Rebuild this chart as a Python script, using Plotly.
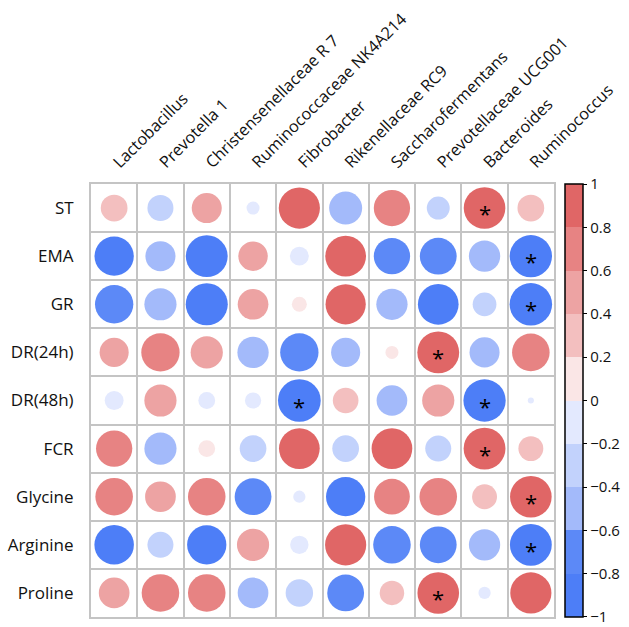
import numpy as np
import plotly.graph_objects as go

# ---------------- data ----------------
genera = ["Lactobacillus", "Prevotella 1", "Christensenellaceae R 7",
          "Ruminococcaceae NK4A214", "Fibrobacter", "Rikenellaceae RC9",
          "Saccharofermentans", "Prevotellaceae UCG001", "Bacteroides",
          "Ruminococcus"]
traits = ["ST", "EMA", "GR", "DR(24h)", "DR(48h)", "FCR",
          "Glycine", "Arginine", "Proline"]

r_ST       = [0.38, -0.36, 0.48, -0.09, 0.90, -0.58, 0.70, -0.28, 0.92, 0.38]
r_EMA      = [-0.82, -0.48, -0.93, 0.46, -0.19, 0.88, -0.70, -0.72, -0.52, -0.95]
r_GR       = [-0.78, -0.55, -0.94, 0.50, 0.12, 0.86, -0.52, -0.88, -0.30, -0.96]
r_DR24     = [0.45, 0.78, 0.55, -0.52, -0.78, -0.45, 0.09, 0.93, -0.48, 0.75]
r_DR48     = [-0.19, 0.55, -0.15, -0.14, -0.97, 0.35, -0.50, 0.55, -0.95, -0.02]
r_FCR      = [0.70, -0.55, 0.15, -0.38, 0.88, -0.38, 0.88, -0.36, 0.93, 0.33]
r_Glycine  = [0.75, 0.50, 0.75, -0.72, -0.08, -0.82, 0.68, 0.75, 0.33, 0.92]
r_Arginine = [-0.83, -0.36, -0.82, 0.55, -0.18, 0.90, -0.75, -0.72, -0.52, -0.93]
r_Proline  = [0.50, 0.75, 0.75, -0.50, -0.40, -0.72, 0.32, 0.92, -0.08, 0.90]

significant = [("ST", "Bacteroides"), ("EMA", "Ruminococcus"),
               ("GR", "Ruminococcus"), ("DR(24h)", "Prevotellaceae UCG001"),
               ("DR(48h)", "Fibrobacter"), ("DR(48h)", "Bacteroides"),
               ("FCR", "Bacteroides"), ("Glycine", "Ruminococcus"),
               ("Arginine", "Ruminococcus"), ("Proline", "Prevotellaceae UCG001")]

cbar_ticks = [1, 0.8, 0.6, 0.4, 0.2, 0, -0.2, -0.4, -0.6, -0.8, -1]

# ---------------- styling ----------------
W, H = 629, 627
ML, MR, MT, MB = 84, 63, 173, 8
FONT = "Open Sans"
bin_colors = ["#4D7EF7", "#5C89F7", "#A3BAFA", "#C2D2FC", "#E3E9FE",
              "#FAE6E6", "#F3BFBF", "#EDA3A3", "#E78383", "#E06666"]
colorscale = []
for i, c in enumerate(bin_colors):
    colorscale.append([i / 10, c])
    colorscale.append([(i + 1) / 10, c])

rows = [r_ST, r_EMA, r_GR, r_DR24, r_DR48, r_FCR, r_Glycine, r_Arginine, r_Proline]
ncol, nrow = len(genera), len(traits)
cell_px = (W - ML - MR) / ncol
xs, ys, vals = [], [], []
for ri, row in enumerate(rows):
    for ci, v in enumerate(row):
        xs.append(ci + 1)
        ys.append(ri + 1)
        vals.append(v)
vals = np.array(vals)
sizes = 0.9 * cell_px * np.sqrt(np.abs(vals))

tick_pos = [t * 0.9995 for t in cbar_ticks]
tick_txt = [("−" + str(abs(t))) if t < 0 else str(t) for t in cbar_ticks]

fig = go.Figure()
fig.add_trace(go.Scatter(
    x=xs, y=ys, mode="markers",
    marker=dict(size=sizes, color=vals, colorscale=colorscale, cmin=-1, cmax=1,
                line=dict(width=0), opacity=1,
                colorbar=dict(x=1 + 11 / (W - ML - MR), xanchor="left", xpad=0,
                              y=0.5, yanchor="middle", len=1, lenmode="fraction",
                              ypad=0, thickness=18, outlinecolor="black",
                              outlinewidth=1.5, tickmode="array",
                              tickvals=tick_pos, ticktext=tick_txt,
                              ticklabeloverflow="allow",
                              ticks="outside", ticklen=4, tickcolor="black",
                              tickfont=dict(family=FONT, size=15, color="#111"))),
    hoverinfo="skip", showlegend=False))

for tr, ge in significant:
    fig.add_annotation(x=genera.index(ge) + 1, y=traits.index(tr) + 1, text="*",
                       showarrow=False, yshift=-5,
                       font=dict(family=FONT, size=22, color="black"))

grid_col = "#C4C4C4"
fig.update_layout(
    width=W, height=H, margin=dict(l=ML, r=MR, t=MT, b=MB),
    paper_bgcolor="white", plot_bgcolor="white",
    font=dict(family=FONT, size=16, color="#111"),
    xaxis=dict(range=[0.5, ncol + 0.5], tickvals=list(range(1, ncol + 1)),
               ticktext=genera, side="top", tickangle=-45, showgrid=False,
               zeroline=False, showline=True, mirror=True, linecolor=grid_col,
               linewidth=2, ticks="", ticklabelstandoff=4,
               tickfont=dict(family=FONT, size=16.3, color="#111"),
               minor=dict(tickvals=[i + 0.5 for i in range(1, ncol)], showgrid=True,
                          gridcolor=grid_col, gridwidth=2, ticks="")),
    yaxis=dict(range=[nrow + 0.5, 0.5], tickvals=list(range(1, nrow + 1)),
               ticktext=traits, showgrid=False, zeroline=False, showline=True,
               mirror=True, linecolor=grid_col, linewidth=2, ticks="",
               ticklabelstandoff=12,
               tickfont=dict(family=FONT, size=17, color="#111"),
               minor=dict(tickvals=[i + 0.5 for i in range(1, nrow)], showgrid=True,
                          gridcolor=grid_col, gridwidth=2, ticks="")),
)

fig.write_html("out.html", config={"displayModeBar": False},
               post_script="document.body.style.margin='0';document.body.style.overflow='hidden';")
